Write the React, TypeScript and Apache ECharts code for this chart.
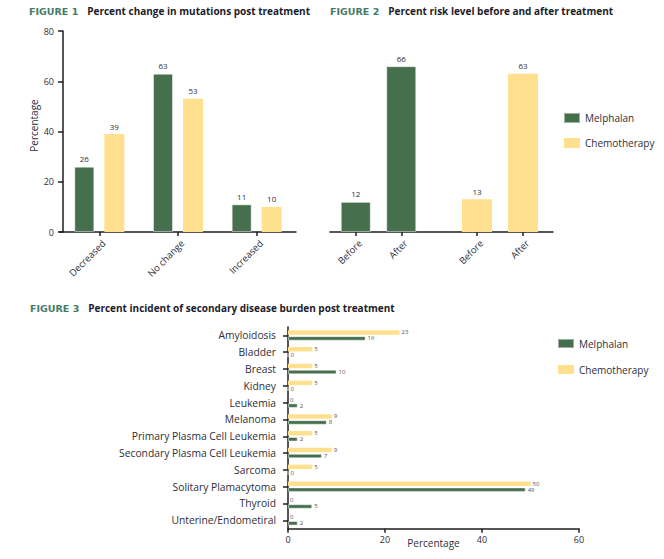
import React, { useEffect, useRef } from "react";
import * as echarts from "echarts";

const fig1Categories = ["Decreased", "No change", "Increased"];
const fig1Melphalan = [26, 63, 11];
const fig1Chemo = [39, 53, 10];

const fig2Categories = ["Before", "After"];
const fig2Melphalan = [12, 66];
const fig2Chemo = [13, 63];

const fig3Categories = [
  "Amyloidosis",
  "Bladder",
  "Breast",
  "Kidney",
  "Leukemia",
  "Melanoma",
  "Primary Plasma Cell Leukemia",
  "Secondary Plasma Cell Leukemia",
  "Sarcoma",
  "Solitary Plamacytoma",
  "Thyroid",
  "Unterine/Endometiral",
];
const fig3Melphalan = [16, 0, 10, 0, 2, 8, 2, 7, 0, 49, 5, 2];
const fig3Chemo = [23, 5, 5, 5, 0, 9, 5, 9, 5, 50, 0, 0];

const seriesNames = ["Melphalan", "Chemotherapy"];
const titles = [
  { fig: "FIGURE 1", text: "Percent change in mutations post treatment" },
  { fig: "FIGURE 2", text: "Percent risk level before and after treatment" },
  { fig: "FIGURE 3", text: "Percent incident of secondary disease burden post treatment" },
];

const GREEN = "#466f4e";
const YELLOW = "#fee08f";
const INK = "#2e2e38";
const AXIS = "#1e1e1e";
const FONT = "'Open Sans', sans-serif";

export default function App() {
  const ref = useRef<HTMLDivElement>(null);
  useEffect(() => {
    if (!ref.current) return;
    const chart = echarts.init(ref.current, null, { renderer: "svg" });
    const titleRich = {
      a: { fontFamily: "'DejaVu Sans', sans-serif", fontWeight: "bold", fontSize: 9.5, color: "#467a68" },
      b: { fontFamily: FONT, fontWeight: "bold", fontSize: 10, color: "#1c1c2a", padding: [0, 0, 0, 9] },
    };
    const mkTitle = (i: number, left: number, top: number) => ({
      left,
      top,
      padding: 0,
      text: `{a|${titles[i].fig}}{b|${titles[i].text}}`,
      textStyle: { rich: titleRich },
    });
    const axisLine = { show: true, lineStyle: { color: AXIS, width: 1.5 } };
    const axisTick = { show: true, length: 4, lineStyle: { color: AXIS, width: 1.5 } };
    const valueHidden = { type: "value", min: 0, max: 80, interval: 20, show: false };
    const barLabelTop = { show: true, position: "top", distance: 4, fontSize: 8, color: INK, fontFamily: FONT };
    const barLabelRight = { show: true, position: "right", distance: 2, fontSize: 6, color: "#555", fontFamily: FONT };
    const greenStyle = { color: GREEN, borderColor: "rgba(255,255,255,0.45)", borderWidth: 1 };
    const yellowStyle = { color: YELLOW };
    const catLabel = {
      rotate: 45,
      fontSize: 9.5,
      color: INK,
      fontFamily: FONT,
      margin: 5,
      verticalAlign: "top",
      lineHeight: 13,
    };

    chart.setOption({
      animation: false,
      backgroundColor: "#fff",
      title: [mkTitle(0, 29, 6), mkTitle(1, 330, 6), mkTitle(2, 30, 303)],
      legend: [
        {
          left: 563,
          top: 112,
          orient: "vertical",
          padding: 0,
          icon: "rect",
          itemWidth: 16,
          itemHeight: 10,
          itemGap: 14,
          data: seriesNames,
          textStyle: { fontSize: 10, color: INK, fontFamily: FONT },
        },
        {
          left: 557,
          top: 338,
          orient: "vertical",
          padding: 0,
          icon: "rect",
          itemWidth: 16,
          itemHeight: 9,
          itemGap: 15.5,
          data: seriesNames,
          textStyle: { fontSize: 10, color: INK, fontFamily: FONT },
        },
      ],
      grid: [
        { left: 60, top: 31, width: 236, height: 201 },
        { left: 333, top: 31, width: 91, height: 201 },
        { left: 454, top: 31, width: 92, height: 201 },
        { left: 330, top: 31, width: 223, height: 201 },
        { left: 288, top: 327, width: 291, height: 201.7 },
      ],
      xAxis: [
        {
          gridIndex: 0,
          type: "category",
          data: fig1Categories,
          axisLine,
          axisTick: { ...axisTick, alignWithLabel: true },
          axisLabel: catLabel,
        },
        {
          gridIndex: 1,
          type: "category",
          data: fig2Categories,
          axisLine: { show: false },
          axisTick: { ...axisTick, alignWithLabel: true },
          axisLabel: catLabel,
        },
        {
          gridIndex: 2,
          type: "category",
          data: fig2Categories,
          axisLine: { show: false },
          axisTick: { ...axisTick, alignWithLabel: true },
          axisLabel: catLabel,
        },
        {
          gridIndex: 3,
          type: "category",
          data: [""],
          axisLine,
          axisTick: { show: false },
          axisLabel: { show: false },
        },
        {
          gridIndex: 4,
          type: "value",
          min: 0,
          max: 60,
          interval: 20,
          axisLine,
          axisTick: { ...axisTick, length: 4 },
          splitLine: { show: false },
          axisLabel: { fontSize: 9, color: INK, fontFamily: FONT, margin: 6 },
          name: "Percentage",
          nameLocation: "middle",
          nameGap: 9,
          nameMoveOverlap: false,
          nameTextStyle: { fontSize: 10, color: INK, fontFamily: FONT },
        },
      ],
      yAxis: [
        {
          gridIndex: 0,
          type: "value",
          min: 0,
          max: 80,
          interval: 20,
          offset: -3,
          axisLine,
          axisTick: { ...axisTick, length: 5 },
          splitLine: { show: false },
          axisLabel: { fontSize: 9, color: INK, fontFamily: FONT, margin: 9 },
          name: "Percentage",
          nameLocation: "middle",
          nameGap: 24,
          nameMoveOverlap: false,
          nameTextStyle: { fontSize: 10, color: INK, fontFamily: FONT, padding: [0, 0, 0, 12] },
        },
        { gridIndex: 1, ...valueHidden },
        { gridIndex: 2, ...valueHidden },
        { gridIndex: 3, ...valueHidden },
        {
          gridIndex: 4,
          type: "category",
          inverse: true,
          data: fig3Categories,
          axisLine,
          axisTick: { ...axisTick, length: 5, alignWithLabel: true },
          axisLabel: { fontSize: 10.3, color: INK, fontFamily: FONT, margin: 12 },
        },
      ],
      series: [
        {
          name: seriesNames[0],
          type: "bar",
          xAxisIndex: 0,
          yAxisIndex: 0,
          data: fig1Melphalan,
          barWidth: 20,
          barGap: "50%",
          itemStyle: greenStyle,
          label: barLabelTop,
        },
        {
          name: seriesNames[1],
          type: "bar",
          xAxisIndex: 0,
          yAxisIndex: 0,
          data: fig1Chemo,
          barWidth: 20,
          barGap: "50%",
          itemStyle: yellowStyle,
          label: barLabelTop,
        },
        {
          name: seriesNames[0],
          type: "bar",
          xAxisIndex: 1,
          yAxisIndex: 1,
          data: fig2Melphalan,
          barWidth: 30,
          itemStyle: greenStyle,
          label: barLabelTop,
        },
        {
          name: seriesNames[1],
          type: "bar",
          xAxisIndex: 2,
          yAxisIndex: 2,
          data: fig2Chemo,
          barWidth: 30,
          itemStyle: yellowStyle,
          label: barLabelTop,
        },
        {
          name: seriesNames[1],
          type: "bar",
          xAxisIndex: 4,
          yAxisIndex: 4,
          data: fig3Chemo,
          barWidth: 4.5,
          barGap: "33%",
          itemStyle: yellowStyle,
          label: barLabelRight,
        },
        {
          name: seriesNames[0],
          type: "bar",
          xAxisIndex: 4,
          yAxisIndex: 4,
          data: fig3Melphalan,
          barWidth: 4.5,
          barGap: "33%",
          itemStyle: greenStyle,
          label: barLabelRight,
        },
      ],
    });
    return () => chart.dispose();
  }, []);
  return (
    <div
      ref={ref}
      style={{ position: "absolute", left: 0, top: 0, width: 664, height: 559, background: "#fff" }}
    />
  );
}
